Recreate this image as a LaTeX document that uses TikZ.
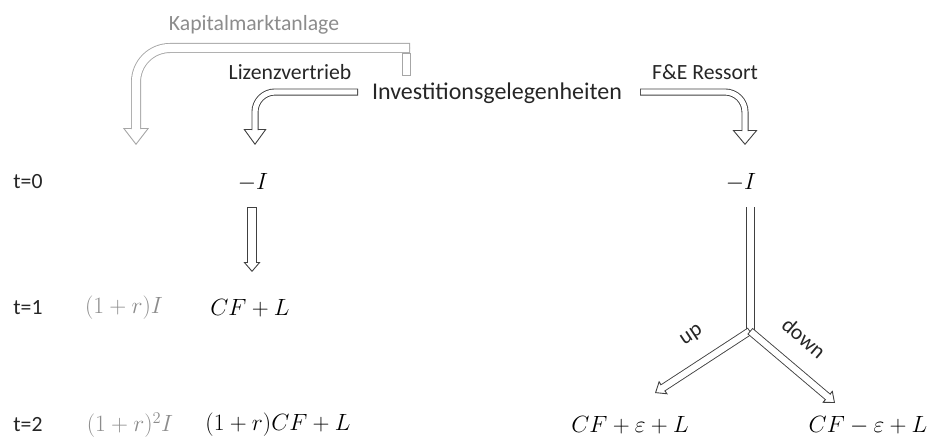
\RequirePackage{fix-cm}
\documentclass[tikz,border=0pt]{standalone}
\usepackage{fontspec}
\setmainfont{Carlito}
\usetikzlibrary{arrows.meta}
\definecolor{arr}{HTML}{404040}
\definecolor{lgray}{HTML}{A6A6A6}
\definecolor{tgray}{HTML}{8C8C8C}
\definecolor{txt}{HTML}{262626}
\tikzset{
  lbl/.style={inner sep=0pt, text=txt, font=\fontsize{21.7}{26}\selectfont},
  big/.style={inner sep=0pt, text=txt, font=\fontsize{24}{29}\selectfont},
  mth/.style={inner sep=0pt, text=black, font=\fontsize{23.5}{28}\selectfont},
  blockarrow/.style args={#1/#2/#3}{line width=0.9pt,
    -{Triangle[fill=white,length=#2,width=#3]},
    postaction={draw, -, line width=#1, shorten >=#2-1pt},
    postaction={draw=white, -, line width=#1-1.8pt, shorten >=#2-2pt, shorten <=0.9pt}},
  rail/.style={draw=arr, line width=0.9pt},
}
\begin{document}
\begin{tikzpicture}[x=1pt,y=-1pt]
\useasboundingbox (0,0) rectangle (928,436);
% labels
\node[lbl, text=tgray] (kap) at (254,25) {Kapitalmarktanlage};
\node[lbl] (liz) at (290,72) {Lizenzvertrieb};
\node[lbl] (fe) at (705,72) {F\&E Ressort};
\node[big] (inv) at (497,93) {Investitionsgelegenheiten};
\node[lbl] (t0) at (28,182) {t=0};
\node[lbl] (t1) at (28,308) {t=1};
\node[lbl] (t2) at (28,425) {t=2};
\node[mth] (mI1) at (253,182) {$-I$};
\node[mth] (mI2) at (741,182) {$-I$};
\node[mth, text=tgray] (g1) at (124,308) {$(1+r)I$};
\node[mth, text=tgray] (g2) at (130,425) {$(1+r)^2I$};
\node[mth] (cfl) at (250,308) {$CF+L$};
\node[mth] (cfrl) at (278,425) {$(1+r)CF+L$};
\node[mth] (cfp) at (630,425) {$CF+\varepsilon+L$};
\node[mth] (cfm) at (868,425) {$CF-\varepsilon+L$};
\node[lbl, rotate=33.5] (up) at (692,336) {up};
\node[lbl, rotate=-40.6] (down) at (804,338) {down};
% coordinates
\coordinate (kS) at (410,48);
\coordinate (kB) at (136,48);
\coordinate (kE) at (136,145);
\coordinate (lS) at (358,92);
\coordinate (lB) at (255,92);
\coordinate (lE) at (255,145);
\coordinate (fS) at (640,92);
\coordinate (fB) at (745,92);
\coordinate (fE) at (745,145);
\coordinate (a1) at (252,207);
\coordinate (a2) at (252,272);
\coordinate (vL1) at (746,207);
\coordinate (vL2) at (746,331);
\coordinate (vR1) at (754,207);
\coordinate (vR2) at (754,331);
\coordinate (fork) at (750,331);
\coordinate (upE) at (655,393);
\coordinate (dnE) at (835,403);
% Kapitalmarktanlage arrow (light)
\draw[lgray, line width=0.9pt, fill=white] (402,53) rectangle (410,75);
\draw[lgray, rounded corners=34pt, blockarrow=10pt/17pt/26pt] (kS) -- (kB) -- (kE);
% Lizenzvertrieb arrow
\draw[arr, rounded corners=20pt, blockarrow=7pt/16pt/23pt] (lS) -- (lB) -- (lE);
% F&E arrow
\draw[arr, rounded corners=20pt, blockarrow=7pt/15pt/25pt] (fS) -- (fB) -- (fE);
% -I to CF+L
\draw[arr, blockarrow=10pt/10pt/17pt] (a1) -- (a2);
% right tree
\draw[rail] (vL1) -- (vL2);
\draw[rail] (vR1) -- (vR2);
\draw[arr, blockarrow=8pt/10pt/16pt] (fork) -- (upE);
\draw[arr, blockarrow=8pt/10pt/16pt] (fork) -- (dnE);
\end{tikzpicture}
\end{document}
